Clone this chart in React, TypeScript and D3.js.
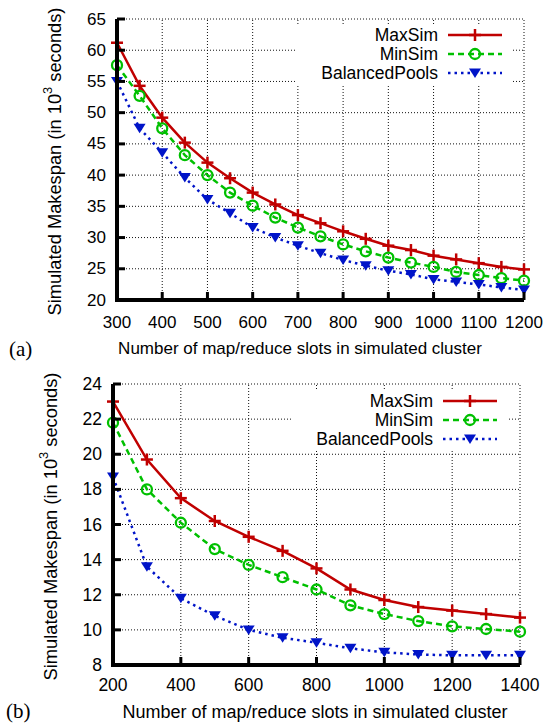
import React from "react";
import * as d3 from "d3";

// panel (a)
const slotsA = [300, 350, 400, 450, 500, 550, 600, 650, 700, 750, 800, 850, 900, 950, 1000, 1050, 1100, 1150, 1200];
const maxSimA = [61.2, 54.3, 49.2, 45.2, 42.0, 39.5, 37.2, 35.3, 33.6, 32.3, 31.0, 29.8, 28.7, 28.0, 27.1, 26.5, 25.9, 25.3, 24.9];
const minSimA = [57.6, 52.7, 47.5, 43.2, 40.0, 37.2, 35.1, 33.2, 31.6, 30.2, 28.9, 27.8, 26.8, 26.0, 25.3, 24.5, 24.0, 23.5, 23.1];
const balancedA = [55.0, 47.5, 43.6, 39.6, 36.1, 33.9, 31.6, 30.0, 28.7, 27.5, 26.4, 25.5, 24.7, 24.1, 23.3, 22.9, 22.5, 22.0, 21.6];
const xTicksA = [300, 400, 500, 600, 700, 800, 900, 1000, 1100, 1200];
const yTicksA = [20, 25, 30, 35, 40, 45, 50, 55, 60, 65];

// panel (b)
const slotsB = [200, 300, 400, 500, 600, 700, 800, 900, 1000, 1100, 1200, 1300, 1400];
const maxSimB = [23.0, 19.7, 17.5, 16.2, 15.3, 14.5, 13.5, 12.3, 11.7, 11.3, 11.1, 10.9, 10.7];
const minSimB = [21.8, 18.0, 16.1, 14.6, 13.7, 13.0, 12.3, 11.4, 10.9, 10.5, 10.2, 10.05, 9.9];
const balancedB = [18.7, 13.6, 11.8, 10.8, 10.0, 9.55, 9.27, 8.95, 8.72, 8.6, 8.55, 8.55, 8.55];
const xTicksB = [200, 400, 600, 800, 1000, 1200, 1400];
const yTicksB = [8, 10, 12, 14, 16, 18, 20, 22, 24];

const seriesNames = ["MaxSim", "MinSim", "BalancedPools"];
const colors = ["#c00000", "#00c000", "#0014c8"];
const dashes = ["none", "6,4", "2.5,4"];

const FONT = "'Liberation Sans', Arial, Helvetica, sans-serif";

function Marker({ kind, x, y, color }: { kind: number; x: number; y: number; color: string }) {
  if (kind === 0) {
    return (
      <g stroke={color} strokeWidth={2.5}>
        <line x1={x - 6} x2={x + 6} y1={y} y2={y} />
        <line x1={x} x2={x} y1={y - 6} y2={y + 6} />
      </g>
    );
  }
  if (kind === 1) {
    return <circle cx={x} cy={y} r={5} fill="none" stroke={color} strokeWidth={2.3} />;
  }
  return <path d={`M${x - 6},${y - 4.5}L${x + 6},${y - 4.5}L${x},${y + 5}Z`} fill={color} />;
}

function Panel(props: any) {
  const { slots, series, xTicks, yTicks, xDomain, yDomain, xRange, yRange, fs, titleFs, yTitleFs, legendFs, legend, box, tickY, titleX, titleY, ytitleX, label } = props;
  const x = d3.scaleLinear().domain(xDomain).range(xRange);
  const y = d3.scaleLinear().domain(yDomain).range(yRange);
  const line = d3
    .line<number>()
    .x((_, i) => x(slots[i]))
    .y((v) => y(v));
  const [x0, x1] = xRange;
  const [y0, y1] = yRange;
  return (
    <g fontFamily={FONT} fontSize={fs}>
      {/* grid */}
      <g stroke="#111" strokeWidth={1} strokeDasharray="1,2">
        {xTicks.slice(1).map((t: number) => (
          <line key={"gx" + t} x1={x(t)} x2={x(t)} y1={y0} y2={y1} />
        ))}
        {yTicks.slice(1).map((t: number) => (
          <line key={"gy" + t} x1={x0} x2={x1} y1={y(t)} y2={y(t)} />
        ))}
      </g>
      <rect x={box[0]} y={box[1]} width={box[2]} height={box[3]} fill="#fff" />
      {/* series */}
      {series.map((s: number[], k: number) => (
        <g key={k}>
          <path d={line(s) || ""} fill="none" stroke={colors[k]} strokeWidth={2.5} strokeDasharray={dashes[k]} />
          {s.map((v, i) => (
            <Marker key={i} kind={k} x={x(slots[i])} y={y(v)} color={colors[k]} />
          ))}
        </g>
      ))}
      {/* axes */}
      <g stroke="#000">
        {xTicks.slice(1).map((t: number) => (
          <line key={"tx" + t} x1={x(t)} x2={x(t)} y1={y0} y2={y0 - 8} strokeWidth={3} />
        ))}
        {yTicks.slice(1).map((t: number) => (
          <line key={"ty" + t} x1={x0} x2={x0 + 8} y1={y(t)} y2={y(t)} strokeWidth={3} />
        ))}
        <path d={`M${x0},${y1}V${y0}H${x1}`} fill="none" strokeWidth={4} />
      </g>
      {xTicks.map((t: number) => (
        <text key={"lx" + t} x={x(t)} y={tickY} textAnchor="middle" dominantBaseline="central">
          {t}
        </text>
      ))}
      {yTicks.map((t: number) => (
        <text key={"ly" + t} x={x0 - 11} y={y(t)} textAnchor="end" dominantBaseline="central">
          {t}
        </text>
      ))}
      <text x={titleX} y={titleY} textAnchor="middle" dominantBaseline="central" fontSize={titleFs}>
        Number of map/reduce slots in simulated cluster
      </text>
      <text
        transform={`translate(${ytitleX},${(y0 + y1) / 2 + 2}) rotate(-90)`}
        textAnchor="middle"
        dominantBaseline="central"
        fontSize={yTitleFs}
      >
        Simulated Makespan (in 10
        <tspan dy={-7} fontSize={yTitleFs * 0.7}>3</tspan>
        <tspan dy={7}> seconds)</tspan>
      </text>
      {/* legend */}
      {seriesNames.map((n, k) => {
        const ly = legend.y + k * legend.dy;
        return (
          <g key={n}>
            <text x={legend.x} y={ly} textAnchor="end" dominantBaseline="central" fontSize={legendFs}>
              {n}
            </text>
            <line x1={legend.x + 10} x2={legend.x + 64} y1={ly} y2={ly} stroke={colors[k]} strokeWidth={2.5} strokeDasharray={dashes[k]} />
            <Marker kind={k} x={legend.x + 37} y={ly} color={colors[k]} />
          </g>
        );
      })}
      <text x={label.x} y={label.y} fontFamily="'Liberation Serif', 'Times New Roman', serif" fontSize={21} dominantBaseline="central">
        {label.text}
      </text>
    </g>
  );
}

export default function App() {
  return (
    <div style={{ position: "absolute", left: 0, top: 0 }}>
      <svg width={554} height={725} style={{ display: "block", background: "#fff" }}>
        <Panel
          slots={slotsA}
          series={[maxSimA, minSimA, balancedA]}
          xTicks={xTicksA}
          yTicks={yTicksA}
          xDomain={[300, 1200]}
          yDomain={[20, 65]}
          xRange={[117, 524]}
          yRange={[300, 19]}
          fs={17}
          titleFs={17}
          yTitleFs={18.3}
          legendFs={17.5}
          legend={{ x: 438, y: 35, dy: 19 }}
          box={[295, 24, 218, 60]}
          tickY={322}
          titleX={300}
          titleY={348}
          ytitleX={54}
          label={{ x: 9, y: 349, text: "(a)" }}
        />
        <Panel
          slots={slotsB}
          series={[maxSimB, minSimB, balancedB]}
          xTicks={xTicksB}
          yTicks={yTicksB}
          xDomain={[200, 1400]}
          yDomain={[8, 24]}
          xRange={[113, 520]}
          yRange={[665, 384]}
          fs={17.5}
          titleFs={18}
          yTitleFs={18.3}
          legendFs={17.5}
          legend={{ x: 433, y: 401, dy: 19 }}
          box={[292, 389, 216, 61]}
          tickY={685}
          titleX={315}
          titleY={712}
          ytitleX={50}
          label={{ x: 6, y: 711, text: "(b)" }}
        />
      </svg>
    </div>
  );
}
